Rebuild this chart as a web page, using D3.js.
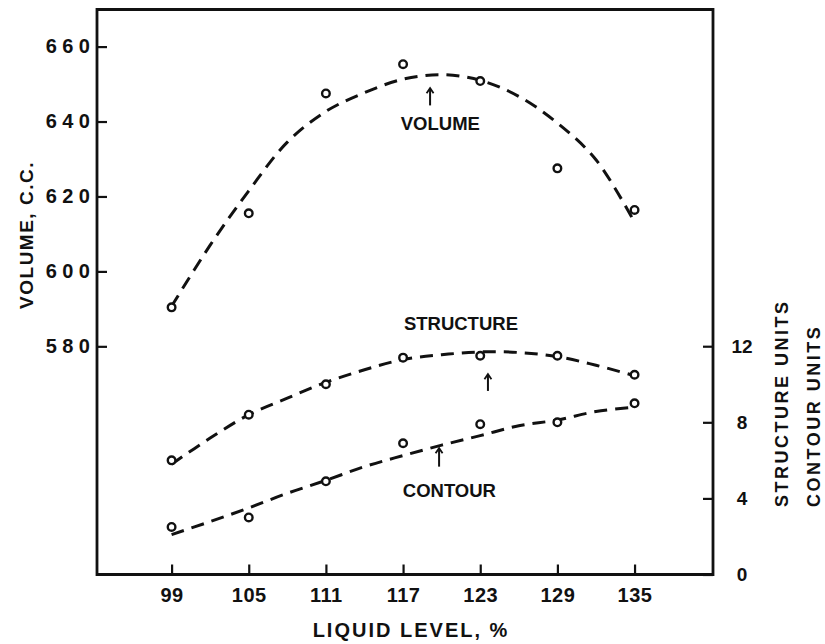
<!DOCTYPE html>
<html>
<head>
<meta charset="utf-8">
<script src="https://cdn.jsdelivr.net/npm/d3@7"></script>
<style>
  html, body { margin: 0; padding: 0; background: #fff; }
  svg { display: block; }
  text { font-family: "Liberation Sans", Arial, sans-serif; font-weight: bold; fill: #111; }
</style>
</head>
<body>
<svg id="chart" width="825" height="644"></svg>
<script>
// ---- data ----
const liquidLevel = [99, 105, 111, 117, 123, 129, 135];
const volume      = [590.4, 615.5, 647.5, 655.3, 650.8, 627.5, 616.4];
const structure   = [6.0, 8.4, 10.0, 11.4, 11.5, 11.5, 10.5];
const contour     = [2.5, 3.0, 4.9, 6.9, 7.9, 8.0, 9.0];

// hand-drawn smoothing curves
const fitLevel     = [99, 102, 105, 108, 111, 114, 117, 120, 123, 126, 129, 132, 135];
const volumeFit    = [590.7, 607, 621.5, 634.5, 642.7, 647.7, 651.3, 652.5, 651.0, 646.7, 639.6, 629.8, 613.1];
const structureFit = [5.8, 7.17, 8.4, 9.27, 10.1, 10.76, 11.3, 11.55, 11.7, 11.67, 11.45, 11.0, 10.45];
const contourFit   = [2.1, 2.78, 3.5, 4.27, 4.95, 5.67, 6.25, 6.8, 7.3, 7.82, 8.12, 8.57, 8.8];

const xTicks      = [99, 105, 111, 117, 123, 129, 135];
const volumeTicks = [580, 600, 620, 640, 660];
const unitTicks   = [0, 4, 8, 12];

// ---- layout ----
const svg = d3.select("#chart");
const L = 97, R = 713, T = 9.5, B = 574.5;

const x  = d3.scaleLinear().domain([93.2, 141.1]).range([L, R]);
const yV = d3.scaleLinear().domain([519.1, 669.9]).range([B, T]);
const yU = d3.scaleLinear().domain([0, 29.7]).range([B, T]);

// frame
svg.append("path")
  .attr("d", `M${L},${B} L${L},${T} L${R},${T} L${R},${B} Z`)
  .attr("fill", "none").attr("stroke", "#111").attr("stroke-width", 2.8);

// axes
const gx = svg.append("g").attr("transform", `translate(0,${B})`)
  .call(d3.axisBottom(x).tickValues(xTicks).tickSizeInner(-10).tickSizeOuter(0).tickPadding(13)
        .tickFormat(d3.format("d")));
const gl = svg.append("g").attr("transform", `translate(${L},0)`)
  .call(d3.axisLeft(yV).tickValues(volumeTicks).tickSizeInner(-10).tickSizeOuter(0).tickPadding(1.5)
        .tickFormat(d3.format("d")));
const gr = svg.append("g").attr("transform", `translate(${R},0)`)
  .call(d3.axisRight(yU).tickValues(unitTicks).tickSizeInner(-10).tickSizeOuter(0).tickPadding(29)
        .tickFormat(d3.format("d")));

[gx, gl, gr].forEach(g => {
  g.select(".domain").remove();
  g.selectAll(".tick line").attr("stroke", "#111").attr("stroke-width", 2.2);
  g.selectAll(".tick text").attr("fill", "#111")
    .style("font-family", '"Liberation Sans", Arial, sans-serif').style("font-weight", "bold");
});
gx.selectAll(".tick text").style("font-size", "20px").style("letter-spacing", "0.5px");
gl.selectAll(".tick text").style("font-size", "20px").style("letter-spacing", "5.5px");
gr.selectAll(".tick text").style("font-size", "19px").attr("text-anchor", "middle");

// axis titles
svg.append("text").attr("x", 411).attr("y", 637).attr("text-anchor", "middle")
  .style("font-size", "20px").style("letter-spacing", "2px").text("LIQUID LEVEL, %");
svg.append("text").attr("transform", "translate(33,235) rotate(-90)").attr("text-anchor", "middle")
  .style("font-size", "19px").style("letter-spacing", "1.5px").text("VOLUME, C.C.");
svg.append("text").attr("transform", "translate(788,507) rotate(-90)").attr("text-anchor", "start")
  .style("font-size", "18px").style("letter-spacing", "2.5px").text("STRUCTURE UNITS");
svg.append("text").attr("transform", "translate(820,507) rotate(-90)").attr("text-anchor", "start")
  .style("font-size", "18px").style("letter-spacing", "2.5px").text("CONTOUR UNITS");

// curves
const series = [
  { fit: volumeFit, pts: volume, y: yV },
  { fit: structureFit, pts: structure, y: yU },
  { fit: contourFit, pts: contour, y: yU }
];
series.forEach(s => {
  const line = d3.line().x((d, i) => x(fitLevel[i])).y(d => s.y(d)).curve(d3.curveCatmullRom);
  svg.append("path").datum(s.fit).attr("d", line)
    .attr("fill", "none").attr("stroke", "#111").attr("stroke-width", 3)
    .attr("stroke-dasharray", "13,8");
  svg.append("g").selectAll("circle").data(s.pts).join("circle")
    .attr("cx", (d, i) => x(liquidLevel[i])).attr("cy", d => s.y(d)).attr("r", 3.8)
    .attr("fill", "#fff").attr("stroke", "#111").attr("stroke-width", 2.4);
});

// labels with arrows
const notes = [
  { text: "VOLUME",    lx: 119.9, ly: yV(639.4), ax: 119.1, tip: yV(648.9), tail: yV(644.3) },
  { text: "STRUCTURE", lx: 121.5, ly: yU(13.2),  ax: 123.6, tip: yU(10.53), tail: yU(9.65) },
  { text: "CONTOUR",   lx: 120.6, ly: yU(4.41),  ax: 119.8, tip: yU(6.64),  tail: yU(5.67) }
];
notes.forEach(n => {
  svg.append("text").attr("x", x(n.lx)).attr("y", n.ly).attr("dy", "0.36em")
    .attr("text-anchor", "middle").style("font-size", "18.5px").text(n.text);
  const ax = x(n.ax);
  svg.append("line").attr("x1", ax).attr("x2", ax).attr("y1", n.tip).attr("y2", n.tail)
    .attr("stroke", "#111").attr("stroke-width", 2);
  svg.append("path").attr("d", `M${ax - 3.5},${n.tip + 5} L${ax},${n.tip} L${ax + 3.5},${n.tip + 5}`)
    .attr("fill", "none").attr("stroke", "#111").attr("stroke-width", 1.8);
});
</script>
</body>
</html>
